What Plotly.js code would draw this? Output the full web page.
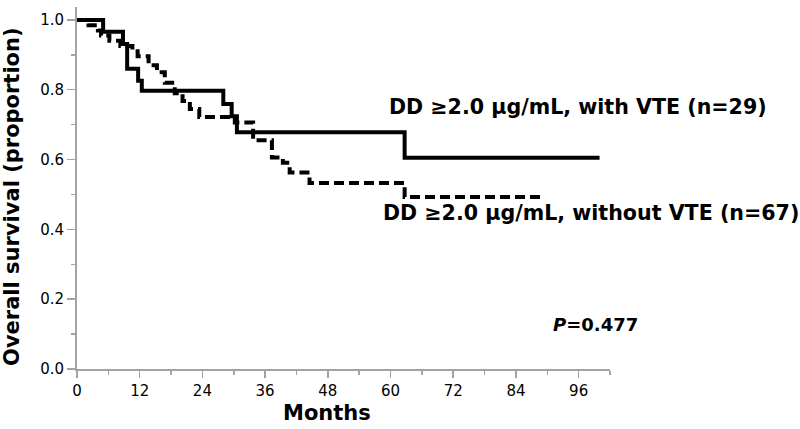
<!DOCTYPE html>
<html>
<head>
<meta charset="utf-8">
<script src="https://cdn.plot.ly/plotly-3.0.1.min.js"></script>
<style>
  html, body { margin: 0; padding: 0; background: #ffffff; }
  #chart { width: 800px; height: 429px; }
</style>
</head>
<body>
<div id="chart"></div>
<script>
// Kaplan-Meier step data (months, survival proportion)
const withVteMonths    = [0, 5.0, 8.8, 9.6, 11.7, 12.4, 28.0, 29.6, 30.6, 62.7, 100.0];
const withVteSurvival  = [1.0, 0.966, 0.931, 0.860, 0.826, 0.797, 0.759, 0.724, 0.678, 0.605, 0.605];

const withoutVteMonths   = [0, 2.2, 4.0, 4.6, 6.2, 8.3, 10.6, 11.6, 13.7, 15.3, 16.8, 18.7, 20.2, 21.6, 23.4, 30.2, 33.7, 37.3, 39.4, 40.7, 44.5, 62.7, 89.5];
const withoutVteSurvival = [1.0, 0.985, 0.970, 0.955, 0.940, 0.925, 0.910, 0.896, 0.870, 0.850, 0.820, 0.790, 0.768, 0.745, 0.722, 0.706, 0.655, 0.606, 0.591, 0.563, 0.533, 0.493, 0.493];

const xTickValues = [0, 12, 24, 36, 48, 60, 72, 84, 96];
const yTickValues = [0.0, 0.2, 0.4, 0.6, 0.8, 1.0];

const labelWith    = "DD \u22652.0 \u03bcg/mL, with VTE (n=29)";
const labelWithout = "DD \u22652.0 \u03bcg/mL, without VTE (n=67)";
const pLabel       = "<i>P</i>=0.477";
const xTitle = "Months";
const yTitle = "Overall survival (proportion)";

const FONT = "DejaVu Sans, Arial, sans-serif";
const axisGray = "#a3a3a3";

const traces = [
  {
    x: withVteMonths, y: withVteSurvival,
    type: "scatter", mode: "lines", name: labelWith,
    line: { shape: "hv", color: "#000000", width: 4 },
    hoverinfo: "skip", cliponaxis: false
  },
  {
    x: withoutVteMonths, y: withoutVteSurvival,
    type: "scatter", mode: "lines", name: labelWithout,
    line: { shape: "hv", color: "#000000", width: 4, dash: "10px,5px" },
    hoverinfo: "skip", cliponaxis: false
  }
];

const layout = {
  width: 800, height: 429,
  margin: { l: 77, r: 190, t: 7, b: 60, pad: 0 },
  paper_bgcolor: "#ffffff", plot_bgcolor: "#ffffff",
  showlegend: false,
  font: { family: FONT, size: 15, color: "#000000" },
  xaxis: {
    range: [0, 102],
    tickvals: xTickValues,
    ticktext: xTickValues.map(String),
    showgrid: false, zeroline: false,
    showline: true, linecolor: axisGray, linewidth: 2,
    ticks: "outside", ticklen: 7, tickwidth: 1.5, tickcolor: axisGray,
    minor: { dtick: 6, tick0: 0, ticks: "outside", ticklen: 4, tickwidth: 1.5, tickcolor: axisGray },
    tickfont: { family: FONT, size: 15, color: "#000000" }
  },
  yaxis: {
    range: [0, 1.037],
    tickvals: yTickValues,
    ticktext: yTickValues.map(v => v.toFixed(1)),
    showgrid: false, zeroline: false,
    showline: true, linecolor: axisGray, linewidth: 2,
    ticks: "outside", ticklen: 8, tickwidth: 1.5, tickcolor: axisGray,
    minor: { dtick: 0.1, tick0: 0, ticks: "outside", ticklen: 4, tickwidth: 1.5, tickcolor: axisGray },
    tickfont: { family: FONT, size: 15, color: "#000000" }
  },
  annotations: [
    { text: labelWith, x: 59.3, y: 0.75, xref: "x", yref: "y", xanchor: "left", yanchor: "middle",
      showarrow: false, font: { family: FONT, size: 20.6, weight: "bold", color: "#000000" } },
    { text: labelWithout, x: 58.1, y: 0.447, xref: "x", yref: "y", xanchor: "left", yanchor: "middle",
      showarrow: false, font: { family: FONT, size: 20.6, weight: "bold", color: "#000000" } },
    { text: pLabel, x: 90.7, y: 0.128, xref: "x", yref: "y", xanchor: "left", yanchor: "middle",
      showarrow: false, font: { family: FONT, size: 18, weight: "bold", color: "#000000" } },
    { text: xTitle, x: 47.8, y: -0.122, xref: "x", yref: "paper", xanchor: "center", yanchor: "middle",
      showarrow: false, font: { family: FONT, size: 21, weight: "bold", color: "#000000" } },
    { text: yTitle, x: -0.122, y: 0.478, xref: "paper", yref: "paper", xanchor: "center", yanchor: "middle",
      textangle: -90, showarrow: false, font: { family: FONT, size: 21, weight: "bold", color: "#000000" } }
  ]
};

Plotly.newPlot("chart", traces, layout, { displayModeBar: false, staticPlot: true });
</script>
</body>
</html>
